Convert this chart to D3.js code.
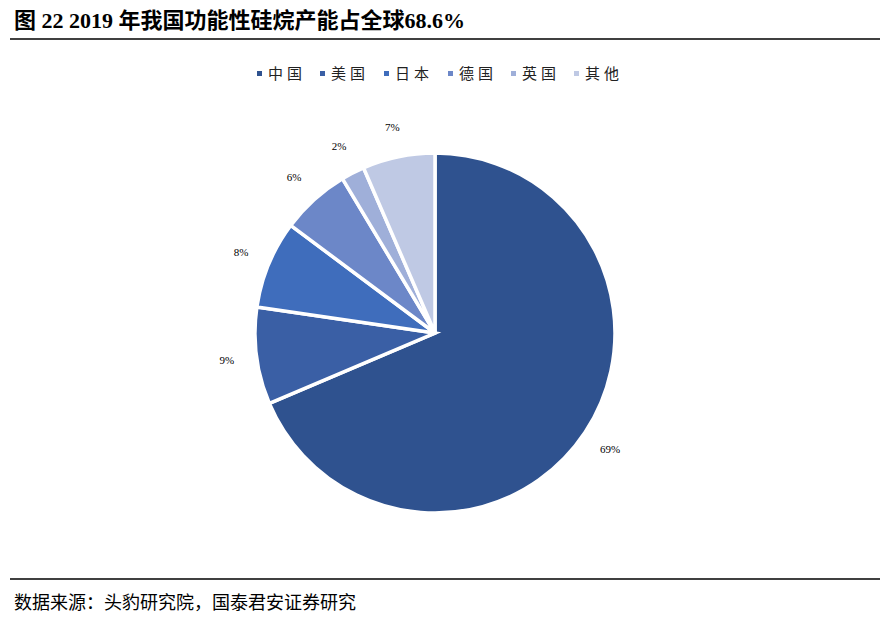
<!DOCTYPE html><html><head><meta charset="utf-8"><script src="https://cdn.jsdelivr.net/npm/d3@7"></script>
<style>body{margin:0;background:#fff}</style></head><body><svg id="c" width="890" height="621"></svg>
<script>
const categories=["中国","美国","日本","德国","英国","其他"];
const values=[68.6,8.7,7.9,6.2,2.1,6.5];
const labels=["69%","9%","8%","6%","2%","7%"];
const colors=["#2F528F","#3A5FA5","#3F6DBC","#6C87C8","#9FAFD9","#BFC9E4"];
const svg=d3.select("#c");
svg.append("text").attr("x",14).attr("y",28).attr("font-family","'Liberation Serif','Noto Sans CJK SC'").attr("font-weight","bold").attr("font-size",22).text("图  22 2019 年我国功能性硅烷产能占全球68.6%");
svg.append("line").attr("x1",10).attr("x2",880).attr("y1",39).attr("y2",39).attr("stroke","#000").attr("stroke-width",1.5);
svg.append("line").attr("x1",10).attr("x2",880).attr("y1",579).attr("y2",579).attr("stroke","#000").attr("stroke-width",1.5);
svg.append("text").attr("x",14).attr("y",609).attr("font-family","'Noto Sans CJK SC'").attr("font-size",18).text("数据来源：头豹研究院，国泰君安证券研究");
// legend
const lx=[257,320,384,448,511,574];
const lg=svg.append("g");
categories.forEach((c,i)=>{
  lg.append("rect").attr("x",lx[i]).attr("y",71).attr("width",5).attr("height",5).attr("fill",colors[i]);
  lg.append("text").attr("x",lx[i]+11).attr("y",79).attr("font-family","'Noto Sans CJK SC'").attr("font-size",15).attr("letter-spacing",4).attr("fill","#222").text(c);
});
const cx=435,cy=333,r=180;
const pie=d3.pie().sort(null).value(d=>d)(values);
const arc=d3.arc().innerRadius(0).outerRadius(r);
const g=svg.append("g").attr("transform",`translate(${cx},${cy})`);
g.selectAll("path").data(pie).join("path").attr("d",arc).attr("fill",(d,i)=>colors[i]).attr("stroke","#fff").attr("stroke-width",3.5);
const la=d3.arc().innerRadius(r+30).outerRadius(r+30);
g.selectAll("text").data(pie).join("text").attr("transform",(d,i)=>{
  const [x,y]=la.centroid(d);return `translate(${x},${y})`;}).attr("text-anchor","middle").attr("dy","0.35em")
 .attr("font-family","'Liberation Serif'").attr("font-size",11).text((d,i)=>labels[i]);
</script></body></html>
